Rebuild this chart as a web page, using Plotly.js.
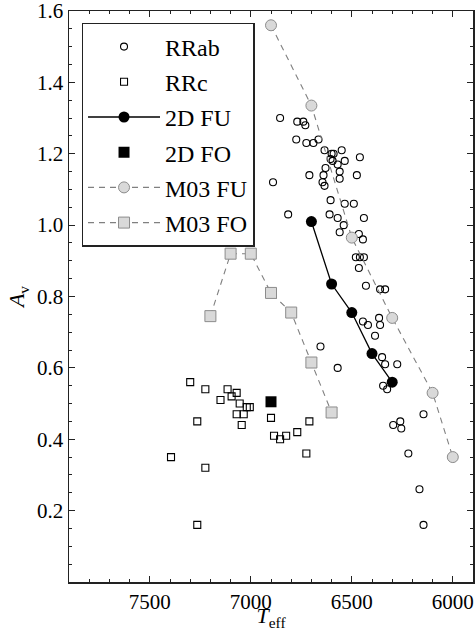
<!DOCTYPE html>
<html>
<head>
<meta charset="utf-8">
<script src="https://cdn.plot.ly/plotly-3.0.1.min.js"></script>
<style>
  html, body { margin: 0; padding: 0; background: #fff; }
  #chart { width: 475px; height: 631px; }
</style>
</head>
<body>
<div id="chart"></div>
<script>
// RRab stars (open circles)
const rrabT = [6855, 6770, 6740, 6730, 6775, 6725, 6690, 6665, 6635, 6550,
               6600, 6590, 6605, 6595, 6535, 6570, 6460, 6630, 6560, 6710,
               6640, 6560, 6475, 6645, 6890, 6635, 6605, 6535, 6490, 6610,
               6570, 6440, 6540, 6560, 6465, 6445, 6480, 6460, 6440, 6465,
               6815, 6430, 6360, 6335, 6445, 6420, 6365, 6360, 6385, 6655,
               6350, 6335, 6275, 6570, 6345, 6325, 6145, 6295, 6260, 6255,
               6220, 6165, 6145];
const rrabA = [1.30, 1.29, 1.29, 1.28, 1.24, 1.23, 1.23, 1.24, 1.21, 1.21,
               1.20, 1.20, 1.185, 1.18, 1.18, 1.17, 1.19, 1.16, 1.15, 1.14,
               1.14, 1.13, 1.14, 1.12, 1.12, 1.11, 1.07, 1.06, 1.06, 1.03,
               1.02, 1.02, 1.00, 0.98, 0.975, 0.96, 0.91, 0.91, 0.91, 0.88,
               1.03, 0.83, 0.82, 0.82, 0.73, 0.72, 0.74, 0.72, 0.69, 0.66,
               0.63, 0.61, 0.61, 0.60, 0.55, 0.54, 0.47, 0.44, 0.45, 0.43,
               0.36, 0.26, 0.16];

// RRc stars (open squares)
const rrcT = [7300, 7225, 7115, 7070, 7150, 7095, 7055, 7020, 7005, 7070,
              7035, 7045, 7265, 7395, 7225, 7265, 6900, 6885, 6855, 6825,
              6770, 6710, 6725];
const rrcA = [0.56, 0.54, 0.54, 0.53, 0.51, 0.52, 0.50, 0.49, 0.49, 0.47,
              0.47, 0.44, 0.45, 0.35, 0.32, 0.16, 0.46, 0.41, 0.40, 0.41,
              0.42, 0.45, 0.36];

// 2D models
const fuT2D = [6700, 6600, 6500, 6400, 6300];
const fuA2D = [1.01, 0.835, 0.755, 0.64, 0.56];
const foT2D = [6900];
const foA2D = [0.505];

// M03 models
const fuTM03 = [6900, 6700, 6500, 6300, 6100, 6000];
const fuAM03 = [1.56, 1.335, 0.965, 0.74, 0.53, 0.35];
const foTM03 = [7200, 7100, 7000, 6900, 6800, 6700, 6600];
const foAM03 = [0.745, 0.92, 0.92, 0.81, 0.755, 0.615, 0.475];

const xTicks = [7500, 7000, 6500, 6000];
const yTicks = [0.2, 0.4, 0.6, 0.8, 1.0, 1.2, 1.4, 1.6];

const serif = "Liberation Serif, Times New Roman, serif";

const traces = [
  {x: rrabT, y: rrabA, name: 'RRab', mode: 'markers', type: 'scatter', legendgroup: 'a',
   marker: {symbol: 'circle-open', size: 7, color: '#000', line: {width: 1.1}}},
  {x: rrcT, y: rrcA, name: 'RRc', mode: 'markers', type: 'scatter', legendgroup: 'b',
   marker: {symbol: 'square-open', size: 7, color: '#000', line: {width: 1.1}}},
  {x: fuT2D, y: fuA2D, name: '2D FU', mode: 'lines+markers', type: 'scatter', legendgroup: 'c',
   line: {color: '#000', width: 1.3},
   marker: {symbol: 'circle', size: 11, color: '#000'}},
  {x: foT2D, y: foA2D, name: '2D FO', mode: 'markers', type: 'scatter', legendgroup: 'd',
   marker: {symbol: 'square', size: 11, color: '#000'}},
  {x: fuTM03, y: fuAM03, name: 'M03 FU', mode: 'lines+markers', type: 'scatter', legendgroup: 'e',
   line: {color: '#808080', width: 1.1, dash: '6px,5px'},
   marker: {symbol: 'circle', size: 11, color: '#d9d9d9', line: {color: '#8c8c8c', width: 1}}},
  {x: foTM03, y: foAM03, name: 'M03 FO', mode: 'lines+markers', type: 'scatter', legendgroup: 'f',
   line: {color: '#808080', width: 1.1, dash: '6px,5px'},
   marker: {symbol: 'square', size: 11, color: '#d9d9d9', line: {color: '#8c8c8c', width: 1}}}
];

const axisCommon = {
  showgrid: false, zeroline: false,
  showline: true, linecolor: '#222', linewidth: 1.5,
  mirror: 'allticks', ticks: 'inside', ticklen: 6, tickwidth: 1.2, tickcolor: '#222',
  ticklabeloverflow: 'allow',
  tickfont: {family: serif, size: 21, color: '#000'}
};

const layout = {
  width: 475, height: 631,
  margin: {l: 69, r: 2, t: 11, b: 49},
  paper_bgcolor: '#fff', plot_bgcolor: '#fff',
  font: {family: serif, color: '#000'},
  showlegend: true,
  legend: {
    x: 0.031, y: 0.979, xanchor: 'left', yanchor: 'top',
    bordercolor: '#222', borderwidth: 1.5, bgcolor: '#fff',
    font: {family: serif, size: 24, color: '#000'},
    tracegroupgap: 1, itemwidth: 72, traceorder: 'grouped'
  },
  xaxis: Object.assign({}, axisCommon, {
    range: [7900, 5900], tickmode: 'array', tickvals: xTicks,
    minor: {dtick: 100, tick0: 0, ticks: 'inside', ticklen: 3, tickwidth: 1, tickcolor: '#222'},
    title: {text: '<i>T</i><sub>eff</sub>', font: {family: serif, size: 22}, standoff: 0}
  }),
  yaxis: Object.assign({}, axisCommon, {
    range: [0, 1.6], tickmode: 'array', tickvals: yTicks, tickformat: '.1f',
    minor: {dtick: 0.05, tick0: 0, ticks: 'inside', ticklen: 3, tickwidth: 1, tickcolor: '#222'},
    title: {text: '<i>A</i><sub>v</sub>', font: {family: serif, size: 22}, standoff: 6}
  })
};

Plotly.newPlot('chart', traces, layout, {displayModeBar: false, staticPlot: true});
</script>
</body>
</html>
